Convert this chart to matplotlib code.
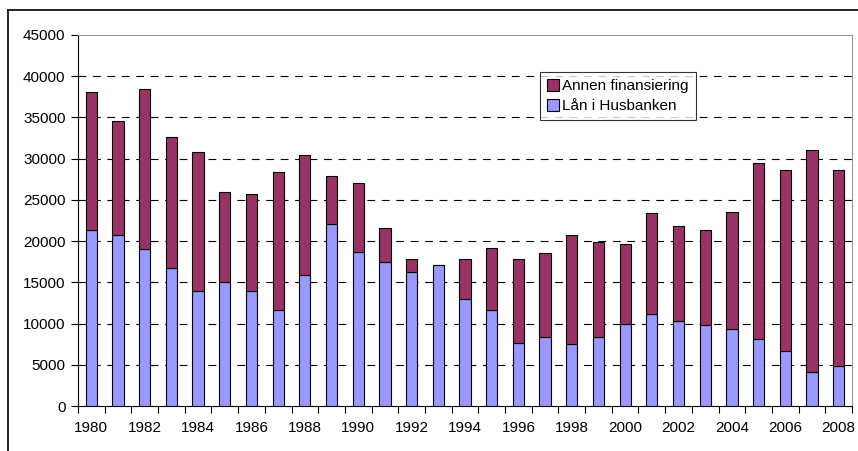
import matplotlib.pyplot as plt
import numpy as np
from matplotlib.lines import Line2D

years = list(range(1980, 2009))
husbanken = [21400, 20800, 19100, 16700, 14000, 15100, 14000, 11700, 15900, 22100,
             18700, 17500, 16200, 17100, 13000, 11700, 7600, 8400, 7500, 8400,
             10000, 11200, 10300, 9800, 9400, 8100, 6700, 4100, 4900]
totals = [38100, 34600, 38500, 32600, 30800, 26000, 25700, 28400, 30400, 27900,
          27100, 21600, 17800, 17100, 17800, 19200, 17800, 18600, 20700, 19900,
          19600, 23400, 21800, 21300, 23500, 29500, 28600, 31000, 28600]
annen = [t - h for t, h in zip(totals, husbanken)]

plt.rcParams['font.family'] = ['Liberation Sans', 'DejaVu Sans']
plt.rcParams['font.size'] = 11

fig = plt.figure(figsize=(8.58, 4.51), dpi=100)
ax = fig.add_axes([78 / 858, 1 - 406 / 451, (852 - 78) / 858, 371 / 451])

x = np.arange(len(years))
ax.bar(x, husbanken, width=0.42, color='#9999FF', edgecolor='black', linewidth=0.8,
       label='Lån i Husbanken', zorder=3)
ax.bar(x, annen, width=0.42, bottom=husbanken, color='#993366', edgecolor='black',
       linewidth=0.8, label='Annen finansiering', zorder=3)

ax.set_xlim(-0.5, len(years) - 0.5)
ax.set_ylim(0, 45000)
ax.set_yticks(range(0, 45001, 5000))
ax.set_xticks(x[::2])
ax.set_xticklabels([str(y) for y in years[::2]])
ax.set_xticks(np.arange(-0.5, len(years), 1), minor=True)
ax.tick_params(axis='x', which='major', length=0, pad=11)
ax.tick_params(axis='x', which='minor', length=5, direction='out', width=0.8)
ax.tick_params(axis='y', length=5, direction='out', width=0.8, pad=4)

for v in range(5000, 45000, 5000):
    ax.axhline(v, color='black', linestyle=(0, (7, 6)), linewidth=0.8, zorder=1)

ax.spines['top'].set_color('#999999')
ax.spines['right'].set_color('#999999')
ax.spines['left'].set_linewidth(0.8)
ax.spines['bottom'].set_linewidth(0.8)

handles, labels = ax.get_legend_handles_labels()
leg = ax.legend(handles[::-1], labels[::-1], loc='upper left',
                bbox_to_anchor=(0.597, 0.900), borderaxespad=0, frameon=True,
                fancybox=False, edgecolor='black', handlelength=0.8, handleheight=0.8,
                handletextpad=0.2, borderpad=0.45, labelspacing=0.4, fontsize=11)
leg.get_frame().set_linewidth(0.8)
leg.set_zorder(5)

# outer chart border
fx = 8 / 858
fy = 1 - 10 / 451
fig.add_artist(Line2D([fx, fx], [0, fy], color='black', linewidth=1.2, transform=fig.transFigure))
fig.add_artist(Line2D([fx, 1], [fy, fy], color='black', linewidth=1.2, transform=fig.transFigure))

fig.savefig('out.png', dpi=100)
